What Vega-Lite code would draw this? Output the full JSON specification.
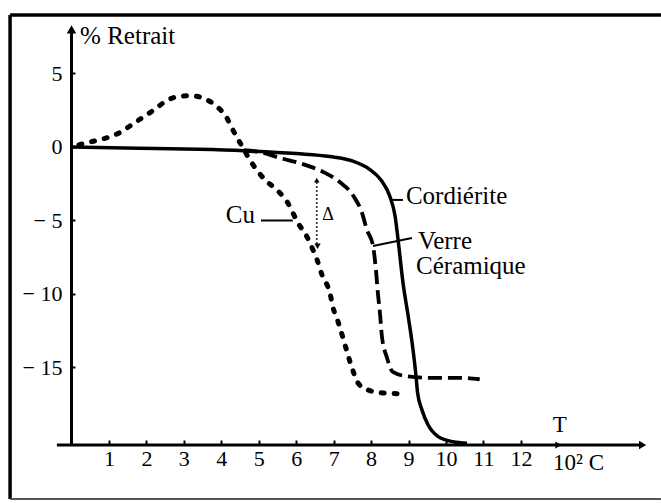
{
  "$schema": "https://vega.github.io/schema/vega-lite/v6.json",
  "width": 661,
  "height": 503,
  "autosize": "none",
  "padding": 0,
  "background": "white",
  "config": {
    "view": {"stroke": null},
    "font": "Liberation Serif, Times New Roman, serif",
    "axis": {
      "domain": false,
      "grid": false,
      "title": null,
      "labelFont": "Liberation Serif, Times New Roman, serif",
      "labelFontSize": 22,
      "labelColor": "black",
      "tickColor": "black",
      "tickWidth": 2,
      "labelOverlap": false,
      "labelFlush": false
    }
  },
  "datasets": {
    "curves": [
      {"s": "Cordiérite", "x": 0, "y": 0},
      {"s": "Cordiérite", "x": 1.8, "y": -0.08},
      {"s": "Cordiérite", "x": 3.4, "y": -0.15},
      {"s": "Cordiérite", "x": 4.6, "y": -0.25},
      {"s": "Cordiérite", "x": 6.0, "y": -0.45},
      {"s": "Cordiérite", "x": 6.9, "y": -0.65},
      {"s": "Cordiérite", "x": 7.5, "y": -0.95},
      {"s": "Cordiérite", "x": 7.95, "y": -1.5},
      {"s": "Cordiérite", "x": 8.28, "y": -2.3},
      {"s": "Cordiérite", "x": 8.5, "y": -3.35},
      {"s": "Cordiérite", "x": 8.64, "y": -4.7},
      {"s": "Cordiérite", "x": 8.72, "y": -6.3},
      {"s": "Cordiérite", "x": 8.85, "y": -9.2},
      {"s": "Cordiérite", "x": 8.99, "y": -11.5},
      {"s": "Cordiérite", "x": 9.12, "y": -13.8},
      {"s": "Cordiérite", "x": 9.2, "y": -15.6},
      {"s": "Cordiérite", "x": 9.24, "y": -16.7},
      {"s": "Cordiérite", "x": 9.36, "y": -17.9},
      {"s": "Cordiérite", "x": 9.52, "y": -18.9},
      {"s": "Cordiérite", "x": 9.79, "y": -19.7},
      {"s": "Cordiérite", "x": 10.19, "y": -20.05},
      {"s": "Cordiérite", "x": 10.56, "y": -20.15},
      {"s": "Verre", "x": 4.6, "y": -0.22},
      {"s": "Verre", "x": 5.03, "y": -0.35},
      {"s": "Verre", "x": 5.57, "y": -0.75},
      {"s": "Verre", "x": 6.1, "y": -1.1},
      {"s": "Verre", "x": 6.72, "y": -1.7},
      {"s": "Verre", "x": 7.17, "y": -2.4},
      {"s": "Verre", "x": 7.52, "y": -3.3},
      {"s": "Verre", "x": 7.76, "y": -4.5},
      {"s": "Verre", "x": 7.89, "y": -5.65},
      {"s": "Verre", "x": 8.05, "y": -6.7},
      {"s": "Verre", "x": 8.13, "y": -8.4},
      {"s": "Verre", "x": 8.18, "y": -9.9},
      {"s": "Verre", "x": 8.24, "y": -11.4},
      {"s": "Verre", "x": 8.29, "y": -12.9},
      {"s": "Verre", "x": 8.42, "y": -14.3},
      {"s": "Verre", "x": 8.58, "y": -15.3},
      {"s": "Verre", "x": 8.96, "y": -15.6},
      {"s": "Verre", "x": 9.57, "y": -15.7},
      {"s": "Verre", "x": 10.29, "y": -15.7},
      {"s": "Verre", "x": 10.9, "y": -15.8},
      {"s": "Cu", "x": 0.2, "y": 0.15},
      {"s": "Cu", "x": 0.41, "y": 0.29},
      {"s": "Cu", "x": 0.73, "y": 0.48},
      {"s": "Cu", "x": 1.03, "y": 0.7},
      {"s": "Cu", "x": 1.32, "y": 1.02},
      {"s": "Cu", "x": 1.56, "y": 1.43},
      {"s": "Cu", "x": 1.8, "y": 1.84},
      {"s": "Cu", "x": 2.04, "y": 2.24},
      {"s": "Cu", "x": 2.28, "y": 2.67},
      {"s": "Cu", "x": 2.52, "y": 3.13},
      {"s": "Cu", "x": 2.84, "y": 3.42},
      {"s": "Cu", "x": 3.19, "y": 3.49},
      {"s": "Cu", "x": 3.62, "y": 3.2},
      {"s": "Cu", "x": 3.89, "y": 2.74},
      {"s": "Cu", "x": 4.15, "y": 1.97},
      {"s": "Cu", "x": 4.31, "y": 1.16},
      {"s": "Cu", "x": 4.5, "y": 0.29},
      {"s": "Cu", "x": 4.85, "y": -1.22},
      {"s": "Cu", "x": 5.17, "y": -2.24},
      {"s": "Cu", "x": 5.49, "y": -2.93},
      {"s": "Cu", "x": 5.76, "y": -3.74},
      {"s": "Cu", "x": 6.05, "y": -5.17},
      {"s": "Cu", "x": 6.29, "y": -6.12},
      {"s": "Cu", "x": 6.45, "y": -7.0},
      {"s": "Cu", "x": 6.56, "y": -7.69},
      {"s": "Cu", "x": 6.69, "y": -8.71},
      {"s": "Cu", "x": 6.9, "y": -9.93},
      {"s": "Cu", "x": 6.98, "y": -10.88},
      {"s": "Cu", "x": 7.12, "y": -11.9},
      {"s": "Cu", "x": 7.25, "y": -12.99},
      {"s": "Cu", "x": 7.36, "y": -13.95},
      {"s": "Cu", "x": 7.49, "y": -15.03},
      {"s": "Cu", "x": 7.65, "y": -16.05},
      {"s": "Cu", "x": 7.92, "y": -16.53},
      {"s": "Cu", "x": 8.32, "y": -16.73},
      {"s": "Cu", "x": 8.96, "y": -16.8}
    ],
    "frame": [
      {"k": "top", "x": -1.64, "y": 8.98, "x2": 15.74, "y2": 8.98},
      {"k": "left", "x": -1.64, "y": -23.95, "x2": -1.64, "y2": 8.98},
      {"k": "bottom", "x": -1.64, "y": -23.95, "x2": 15.74, "y2": -23.95},
      {"k": "axis", "x": 0, "y": -20.27, "x2": 0, "y2": 7.9},
      {"k": "axis", "x": -0.39, "y": -20.27, "x2": 15.2, "y2": -20.27},
      {"k": "leader", "x": 5.06, "y": -5.0, "x2": 5.91, "y2": -5.0},
      {"k": "leader", "x": 8.55, "y": -3.6, "x2": 8.85, "y2": -3.6},
      {"k": "leader", "x": 8.05, "y": -6.73, "x2": 9.09, "y2": -6.19},
      {"k": "delta", "x": 6.55, "y": -2.4, "x2": 6.55, "y2": -6.6}
    ],
    "arrows": [
      {"k": "up", "x": 0, "y": 8.0},
      {"k": "right", "x": 15.25, "y": -20.27},
      {"k": "rightsmall", "x": 13.0, "y": -20.27},
      {"k": "dup", "x": 6.55, "y": -2.25},
      {"k": "ddown", "x": 6.57, "y": -6.75}
    ],
    "labels": [
      {"k": "big", "t": "% Retrait", "x": 0.23, "y": 7.0},
      {"k": "big", "t": "Cu", "x": 4.12, "y": -5.17},
      {"k": "big", "t": "Cordiérite", "x": 8.93, "y": -3.88},
      {"k": "big", "t": "Verre", "x": 9.25, "y": -6.94},
      {"k": "big", "t": "Céramique", "x": 9.2, "y": -8.64},
      {"k": "tick", "t": "10² C", "x": 12.86, "y": -21.97},
      {"k": "center", "t": "T", "x": 13.04, "y": -19.39},
      {"k": "small", "t": "Δ", "x": 6.85, "y": -4.97}
    ]
  },
  "encoding": {
    "x": {
      "field": "x",
      "type": "quantitative",
      "scale": {"domain": [-1.909, 15.741], "nice": false, "zero": false},
      "axis": {
        "orient": "bottom",
        "offset": -58,
        "values": [1, 2, 3, 4, 5, 6, 7, 8, 9, 10, 11, 12],
        "tickSize": -5,
        "labelPadding": 8
      }
    },
    "y": {
      "field": "y",
      "type": "quantitative",
      "scale": {"domain": [-24.218, 10.0], "nice": false, "zero": false},
      "axis": {
        "orient": "left",
        "offset": -72,
        "values": [5, 0, -5, -10, -15],
        "tickSize": -3,
        "labelPadding": 13,
        "labelExpr": "datum.value < 0 ? '− ' + abs(datum.value) : datum.label"
      }
    }
  },
  "layer": [
    {
      "data": {"name": "frame"},
      "transform": [{"filter": "datum.k === 'top' || datum.k === 'left'"}],
      "mark": {"type": "rule", "color": "black", "strokeWidth": 3.5},
      "encoding": {"x2": {"field": "x2"}, "y2": {"field": "y2"}}
    },
    {
      "data": {"name": "frame"},
      "transform": [{"filter": "datum.k === 'bottom'"}],
      "mark": {"type": "rule", "color": "#555", "strokeWidth": 2},
      "encoding": {"x2": {"field": "x2"}, "y2": {"field": "y2"}}
    },
    {
      "data": {"name": "frame"},
      "transform": [{"filter": "datum.k === 'axis'"}],
      "mark": {"type": "rule", "color": "black", "strokeWidth": 3},
      "encoding": {"x2": {"field": "x2"}, "y2": {"field": "y2"}}
    },
    {
      "data": {"name": "frame"},
      "transform": [{"filter": "datum.k === 'leader'"}],
      "mark": {"type": "rule", "color": "black", "strokeWidth": 2},
      "encoding": {"x2": {"field": "x2"}, "y2": {"field": "y2"}}
    },
    {
      "data": {"name": "frame"},
      "transform": [{"filter": "datum.k === 'delta'"}],
      "mark": {"type": "rule", "color": "black", "strokeWidth": 1.8, "strokeDash": [1.5, 2.5]},
      "encoding": {"x2": {"field": "x2"}, "y2": {"field": "y2"}}
    },
    {
      "data": {"name": "arrows"},
      "transform": [{"filter": "datum.k === 'up'"}],
      "mark": {"type": "point", "shape": "triangle-up", "filled": true, "color": "black", "size": 90, "opacity": 1}
    },
    {
      "data": {"name": "arrows"},
      "transform": [{"filter": "datum.k === 'right'"}],
      "mark": {"type": "point", "shape": "triangle-right", "filled": true, "color": "black", "size": 70, "opacity": 1}
    },
    {
      "data": {"name": "arrows"},
      "transform": [{"filter": "datum.k === 'rightsmall'"}],
      "mark": {"type": "point", "shape": "triangle-right", "filled": true, "color": "black", "size": 50, "opacity": 1}
    },
    {
      "data": {"name": "arrows"},
      "transform": [{"filter": "datum.k === 'dup'"}],
      "mark": {"type": "point", "shape": "triangle-up", "filled": true, "color": "black", "size": 30, "opacity": 1}
    },
    {
      "data": {"name": "arrows"},
      "transform": [{"filter": "datum.k === 'ddown'"}],
      "mark": {"type": "point", "shape": "triangle-down", "filled": true, "color": "black", "size": 40, "opacity": 1}
    },
    {
      "data": {"name": "curves"},
      "transform": [{"filter": "datum.s === 'Cordiérite'"}],
      "mark": {"type": "line", "color": "black", "strokeWidth": 3.5, "interpolate": "monotone"}
    },
    {
      "data": {"name": "curves"},
      "transform": [{"filter": "datum.s === 'Verre'"}],
      "mark": {"type": "line", "color": "black", "strokeWidth": 3.8, "interpolate": "monotone", "strokeDash": [14, 6]}
    },
    {
      "data": {"name": "curves"},
      "transform": [{"filter": "datum.s === 'Cu'"}],
      "mark": {"type": "line", "color": "black", "strokeWidth": 5, "interpolate": "monotone", "strokeDash": [3, 10], "strokeCap": "round"}
    },
    {
      "data": {"name": "labels"},
      "transform": [{"filter": "datum.k === 'big'"}],
      "mark": {"type": "text", "align": "left", "baseline": "alphabetic", "fontSize": 25, "color": "black"},
      "encoding": {"text": {"field": "t"}}
    },
    {
      "data": {"name": "labels"},
      "transform": [{"filter": "datum.k === 'tick'"}],
      "mark": {"type": "text", "align": "left", "baseline": "alphabetic", "fontSize": 23, "color": "black"},
      "encoding": {"text": {"field": "t"}}
    },
    {
      "data": {"name": "labels"},
      "transform": [{"filter": "datum.k === 'center'"}],
      "mark": {"type": "text", "align": "center", "baseline": "alphabetic", "fontSize": 23, "color": "black"},
      "encoding": {"text": {"field": "t"}}
    },
    {
      "data": {"name": "labels"},
      "transform": [{"filter": "datum.k === 'small'"}],
      "mark": {"type": "text", "align": "center", "baseline": "alphabetic", "fontSize": 18, "color": "black"},
      "encoding": {"text": {"field": "t"}}
    }
  ]
}
